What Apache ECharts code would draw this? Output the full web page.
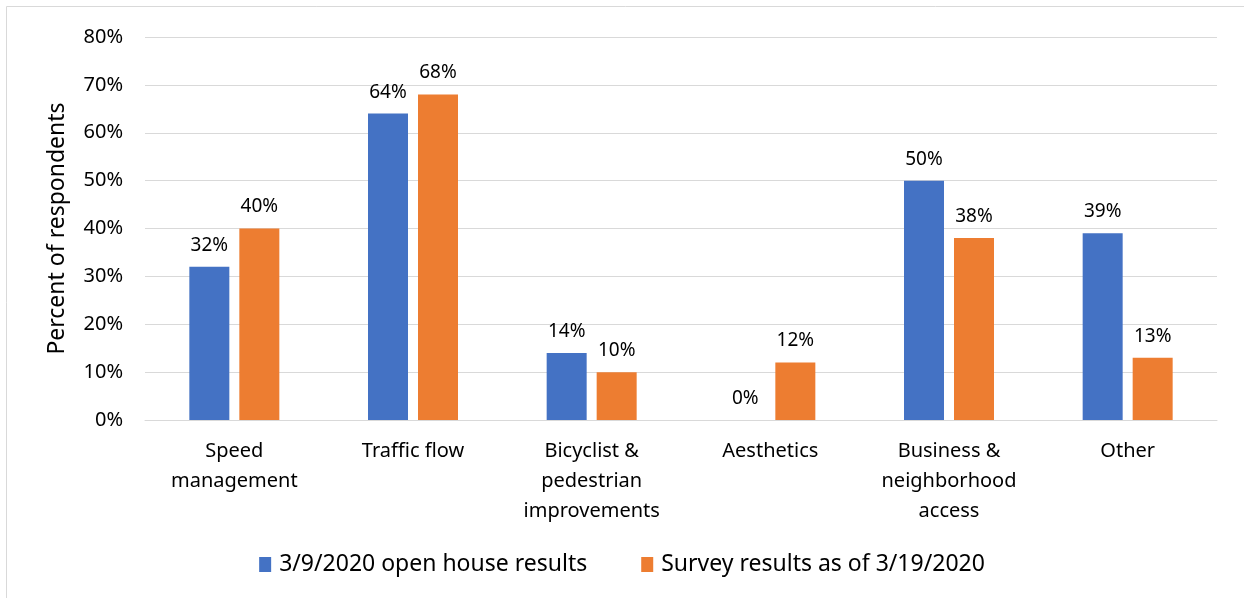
<!DOCTYPE html>
<html>
<head>
<meta charset="utf-8">
<script src="https://cdn.jsdelivr.net/npm/echarts@6/dist/echarts.min.js"></script>
<style>
  html, body { margin: 0; padding: 0; background: #fff; }
  #chart { width: 1244px; height: 598px; }
</style>
</head>
<body>
<div id="chart"></div>
<script>
// categories and values (percent)
var categories = ['Speed\nmanagement', 'Traffic flow', 'Bicyclist &\npedestrian\nimprovements', 'Aesthetics', 'Business &\nneighborhood\naccess', 'Other'];
var openHouse = [32, 64, 14, 0, 50, 39];
var survey = [40, 68, 10, 12, 38, 13];
var seriesNames = ['3/9/2020 open house results', 'Survey results as of 3/19/2020'];

var chart = echarts.init(document.getElementById('chart'));

var font = 'Noto Sans, sans-serif';

var option = {
  animation: false,
  color: ['#4472c4', '#ed7d31'],
  graphic: [{
    type: 'rect',
    shape: { x: 6.5, y: 6.5, width: 1300, height: 700 },
    style: { fill: 'none', stroke: '#d9d9d9', lineWidth: 1 }
  }],
  grid: { left: 145, right: 27, top: 37, bottom: 178 },
  legend: {
    top: 548,
    left: 'center',
    itemWidth: 12,
    itemHeight: 15,
    itemGap: 54,
    icon: 'rect',
    textStyle: { fontFamily: font, fontSize: 23, color: '#000', padding: [0, 0, 0, 3] },
    data: seriesNames
  },
  xAxis: {
    type: 'category',
    data: categories,
    axisLine: { lineStyle: { color: '#d9d9d9' } },
    axisTick: { show: false },
    axisLabel: { fontFamily: font, fontSize: 20, color: '#000', lineHeight: 30, margin: 16, interval: 0 }
  },
  yAxis: {
    type: 'value',
    min: 0,
    max: 80,
    interval: 10,
    name: 'Percent of respondents',
    nameLocation: 'middle',
    nameGap: 76,
    nameTextStyle: { fontFamily: font, fontSize: 23, color: '#000' },
    axisLine: { show: false },
    axisTick: { show: false },
    splitLine: { lineStyle: { color: '#d9d9d9' } },
    axisLabel: { fontFamily: font, fontSize: 20, color: '#000', margin: 22, formatter: '{value}%' }
  },
  series: [{
    name: seriesNames[0],
    type: 'bar',
    data: openHouse,
    barWidth: 40,
    barGap: '25%',
    label: { show: true, position: 'top', distance: 12, fontFamily: font, fontSize: 19, color: '#000', formatter: '{c}%' }
  }, {
    name: seriesNames[1],
    type: 'bar',
    data: survey,
    barWidth: 40,
    barGap: '25%',
    label: { show: true, position: 'top', distance: 12, fontFamily: font, fontSize: 19, color: '#000', formatter: '{c}%' }
  }]
};

chart.setOption(option);
</script>
</body>
</html>
